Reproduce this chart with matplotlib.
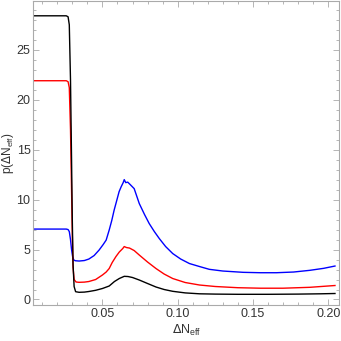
import matplotlib
matplotlib.use("Agg")
import matplotlib.pyplot as plt
from matplotlib.ticker import MultipleLocator

# curve data
x_black = [0.004, 0.026, 0.0272, 0.0280, 0.0288, 0.0295, 0.0300, 0.0305, 0.0312, 0.0322, 0.0345,
           0.038, 0.041, 0.0455, 0.050, 0.0545, 0.058, 0.0612, 0.0645, 0.067, 0.070, 0.0745,
           0.080, 0.0856, 0.091, 0.0967, 0.105, 0.1145, 0.125, 0.140, 0.160, 0.180, 0.195, 0.2045]
y_black = [28.4, 28.4, 28.3, 27.5, 22.0, 14.0, 8.0, 3.5, 1.3, 0.78, 0.72,
           0.74, 0.8, 0.92, 1.1, 1.35, 1.8, 2.1, 2.32, 2.3, 2.2, 1.95,
           1.6, 1.25, 1.0, 0.82, 0.66, 0.57, 0.54, 0.52, 0.52, 0.54, 0.57, 0.6]

x_red = [0.004, 0.026, 0.0272, 0.0280, 0.0288, 0.0295, 0.0300, 0.0305, 0.0312, 0.0325, 0.0345,
         0.038, 0.041, 0.0455, 0.050, 0.0525, 0.0545, 0.0565, 0.059, 0.0612, 0.0635, 0.0645,
         0.066, 0.068, 0.0711, 0.0745, 0.080, 0.0856, 0.091, 0.0967, 0.105, 0.1145, 0.125,
         0.140, 0.155, 0.170, 0.1878, 0.2045]
y_red = [21.9, 21.9, 21.8, 21.2, 17.0, 11.0, 6.5, 3.2, 2.0, 1.75, 1.72,
         1.74, 1.8, 2.0, 2.45, 2.75, 3.1, 3.7, 4.3, 4.75, 5.1, 5.3,
         5.2, 5.15, 4.9, 4.45, 3.75, 3.1, 2.55, 2.1, 1.7, 1.45, 1.3,
         1.18, 1.13, 1.13, 1.22, 1.4]

x_blue = [0.004, 0.026, 0.0272, 0.0280, 0.0288, 0.0295, 0.0302, 0.0310, 0.0320, 0.0345,
          0.038, 0.041, 0.0445, 0.0478, 0.0505, 0.0525, 0.0545, 0.0562, 0.0578, 0.0595,
          0.0611, 0.0625, 0.0638, 0.0645, 0.0655, 0.0668, 0.0685, 0.0711, 0.0745, 0.078,
          0.0811, 0.0845, 0.0878, 0.092, 0.0967, 0.102, 0.1078, 0.1145, 0.121, 0.130,
          0.1435, 0.155, 0.1656, 0.177, 0.1878, 0.197, 0.2045]
y_blue = [7.05, 7.05, 7.0, 6.8, 6.0, 5.0, 4.3, 3.95, 3.88, 3.85,
          3.9, 4.05, 4.4, 4.95, 5.5, 5.95, 6.95, 7.9, 8.95, 9.9,
          10.8, 11.3, 11.7, 12.0, 11.7, 11.75, 11.5, 11.1, 9.6, 8.5,
          7.6, 6.8, 6.1, 5.3, 4.6, 4.05, 3.6, 3.3, 3.02, 2.85,
          2.72, 2.68, 2.68, 2.75, 2.92, 3.12, 3.35]

plt.rcParams['font.family'] = ['Liberation Sans', 'DejaVu Sans']

fig = plt.figure(figsize=(3.41, 3.41), dpi=100)
ax = fig.add_axes([0.0977, 0.1056, 0.897, 0.892])

ax.plot(x_blue, y_blue, color='#0000ff', lw=1.0)
ax.plot(x_red, y_red, color='#ff0000', lw=1.0)
ax.plot(x_black, y_black, color='black', lw=1.0)

ax.set_xlim(0.0041, 0.2073)
ax.set_ylim(-0.55, 29.9)

ax.xaxis.set_major_locator(MultipleLocator(0.05))
ax.xaxis.set_minor_locator(MultipleLocator(0.01))
ax.yaxis.set_major_locator(MultipleLocator(5))
ax.yaxis.set_minor_locator(MultipleLocator(1))
ax.set_xticks([0.05, 0.10, 0.15, 0.20])
ax.set_xticklabels(['0.05', '0.10', '0.15', '0.20'])

for s in ax.spines.values():
    s.set_color('#aaaaaa')
    s.set_linewidth(0.8)
ax.tick_params(which='both', direction='in', top=True, right=True, color='#aaaaaa',
               labelsize=9, labelcolor='#333333', width=0.6)
ax.tick_params(which='major', length=4, pad=2)
ax.tick_params(which='minor', length=2)

ax.set_xlabel(r'$\Delta\mathregular{N_{eff}}$', fontsize=9, color='#333333', labelpad=2)
ax.set_ylabel(r'p($\Delta\mathregular{N_{eff}}$)', fontsize=8.5, color='#333333')
ax.yaxis.set_label_coords(-0.058, 0.5)

fig.savefig('out.png', dpi=100)
